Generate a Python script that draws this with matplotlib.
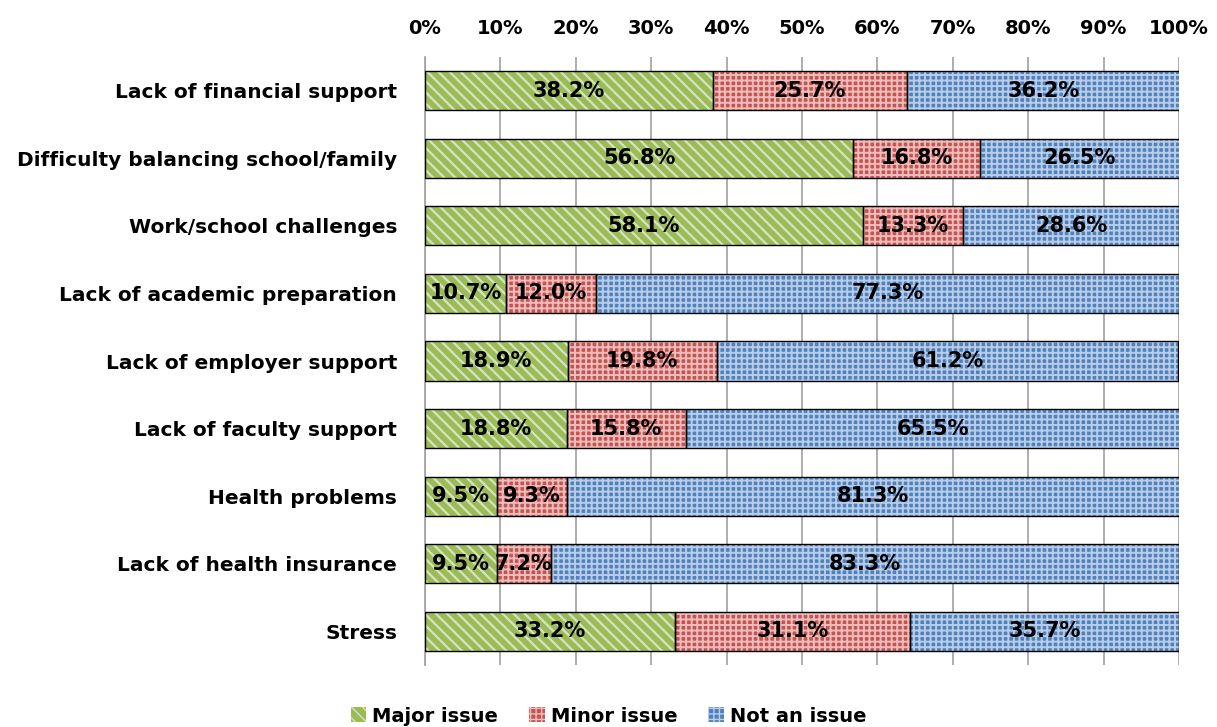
import matplotlib
matplotlib.use("Agg")
import matplotlib.pyplot as plt
import numpy as np
from matplotlib.patches import Patch

categories = ["Lack of financial support", "Difficulty balancing school/family",
              "Work/school challenges", "Lack of academic preparation",
              "Lack of employer support", "Lack of faculty support",
              "Health problems", "Lack of health insurance", "Stress"]
major = [38.2, 56.8, 58.1, 10.7, 18.9, 18.8, 9.5, 9.5, 33.2]
minor = [25.7, 16.8, 13.3, 12.0, 19.8, 15.8, 9.3, 7.2, 31.1]
not_issue = [36.2, 26.5, 28.6, 77.3, 61.2, 65.5, 81.3, 83.3, 35.7]
series_names = ["Major issue", "Minor issue", "Not an issue"]

plt.rcParams['font.family'] = ['DejaVu Sans']

fig = plt.figure(figsize=(12.17, 7.27), dpi=100)
ax = fig.add_axes([425/1217, 1-665/727, (1179-425)/1217, (665-57)/727])

y = np.arange(len(categories))
series = [major, minor, not_issue]
fills = ["#9BBB59", "#C4544F", "#4F81BD"]
hatchcols = ["#D7E4BD", "#EDBDBD", "#B9CDE8"]
hatches = ["\\\\\\", "+++", "+++"]
hlws = [1.6, 1.4, 1.4]
left = np.zeros(len(categories))
h = 0.58
legend_handles = []
for vals, fc, hc, ht, hlw in zip(series, fills, hatchcols, hatches, hlws):
    vals = np.array(vals)
    ax.barh(y, vals, left=left, height=h, color=fc, edgecolor='none', zorder=2)
    with plt.rc_context({'hatch.linewidth': hlw}):
        bars = ax.barh(y, vals, left=left, height=h, color='none', edgecolor=hc, hatch=ht,
                       linewidth=0, zorder=3)
        lh = Patch(facecolor=fc, edgecolor=hc, hatch=ht, linewidth=0)
    for b in list(bars) + [lh]:
        if hasattr(b, 'set_hatch_linewidth'):
            b.set_hatch_linewidth(hlw)
    legend_handles.append(lh)
    ax.barh(y, vals, left=left, height=h, color='none', edgecolor='black', linewidth=1.0, zorder=4)
    for yi, l, v in zip(y, left, vals):
        ax.text(l + v/2, yi, f"{v:.1f}%", ha='center', va='center', fontsize=15,
                fontweight='bold', color='black', zorder=5)
    left = left + vals

ax.set_xlim(0, 100)
ax.set_ylim(len(categories)-0.5, -0.5)
ax.set_xticks(np.arange(0, 101, 10))
ax.set_xticklabels([f"{t}%" for t in range(0, 101, 10)], fontsize=14, fontweight='bold')
ax.xaxis.tick_top()
ax.tick_params(axis='x', length=0, pad=14)
ax.set_yticks(y)
ax.set_yticklabels(categories, fontsize=14.5, fontweight='bold')
ax.tick_params(axis='y', length=0, pad=20)
ax.grid(axis='x', color='#A0A0A0', linewidth=1.2, zorder=0)
ax.set_axisbelow(True)
for s in ['top', 'right', 'bottom']:
    ax.spines[s].set_visible(False)
ax.spines['left'].set_color('#A0A0A0')
ax.spines['left'].set_linewidth(1.2)

fig.legend(legend_handles, series_names, loc='center', bbox_to_anchor=(0.5, 1-716/727), ncol=3,
           frameon=False, prop={'size': 14, 'weight': 'bold'}, handlelength=0.8, handleheight=0.8,
           handletextpad=0.3, columnspacing=1.6)

fig.savefig("out.png", dpi=100)
